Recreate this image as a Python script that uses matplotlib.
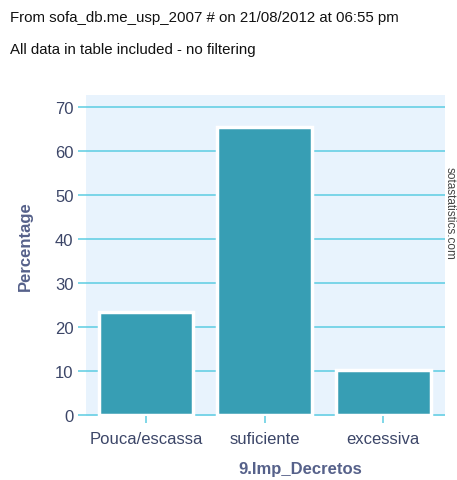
import matplotlib
matplotlib.use("Agg")
import matplotlib.pyplot as plt

categories = ["Pouca/escassa", "suficiente", "excessiva"]
values = [23.3, 65.5, 10.2]
yticks = [0, 10, 20, 30, 40, 50, 60, 70]

plt.rcParams['font.family'] = ['Liberation Sans', 'DejaVu Sans']

W, H = 457, 481
fig = plt.figure(figsize=(W / 100, H / 100), dpi=100)
fig.patch.set_facecolor("white")

ax = fig.add_axes([86 / W, 1 - 417 / H, (445 - 86) / W, (417 - 96) / H])
ax.set_facecolor("#e8f3fd")

grid_col = "#5ccde2"
tick_col = "#3c4668"
label_col = "#56618a"

x = list(range(len(categories)))
ax.bar(x, values, width=0.8, color="#379eb4", edgecolor="white", linewidth=2.5, zorder=3)

ax.set_xlim(-0.506, 2.52)
ax.set_ylim(-0.23, 72.7)
ax.set_yticks(yticks)
ax.set_yticklabels([str(v) for v in yticks])
ax.set_xticks(x)
ax.set_xticklabels(categories)

ax.yaxis.grid(True, color=grid_col, linewidth=1.1, zorder=1)
ax.xaxis.grid(False)
ax.set_axisbelow(True)

for s in ax.spines.values():
    s.set_visible(False)

ax.tick_params(axis="y", length=6, width=1.1, color=grid_col, labelcolor=tick_col,
               labelsize=12, pad=3)
ax.tick_params(axis="x", length=5, width=1.1, color=grid_col, labelcolor=tick_col,
               labelsize=12, pad=6)

fig.text(25 / W, 1 - 246 / H, "Percentage", rotation=90, fontsize=12, fontweight="bold",
         color=label_col, va="center", ha="center")
fig.text(300 / W, 1 - 470 / H, "9.Imp_Decretos", fontsize=12, fontweight="bold",
         color=label_col, va="center", ha="center")

fig.text(10 / W, 1 - 18 / H, "From sofa_db.me_usp_2007 # on 21/08/2012 at 06:55 pm",
         fontsize=10.8, color="#111111", va="center", ha="left")
fig.text(10 / W, 1 - 50 / H, "All data in table included - no filtering",
         fontsize=10.8, color="#111111", va="center", ha="left")
fig.text(450 / W, 1 - 213 / H, "sotastatistics.com", rotation=270, fontsize=8.5,
         color="#444444", va="center", ha="center")

fig.savefig("out.png", dpi=100)
